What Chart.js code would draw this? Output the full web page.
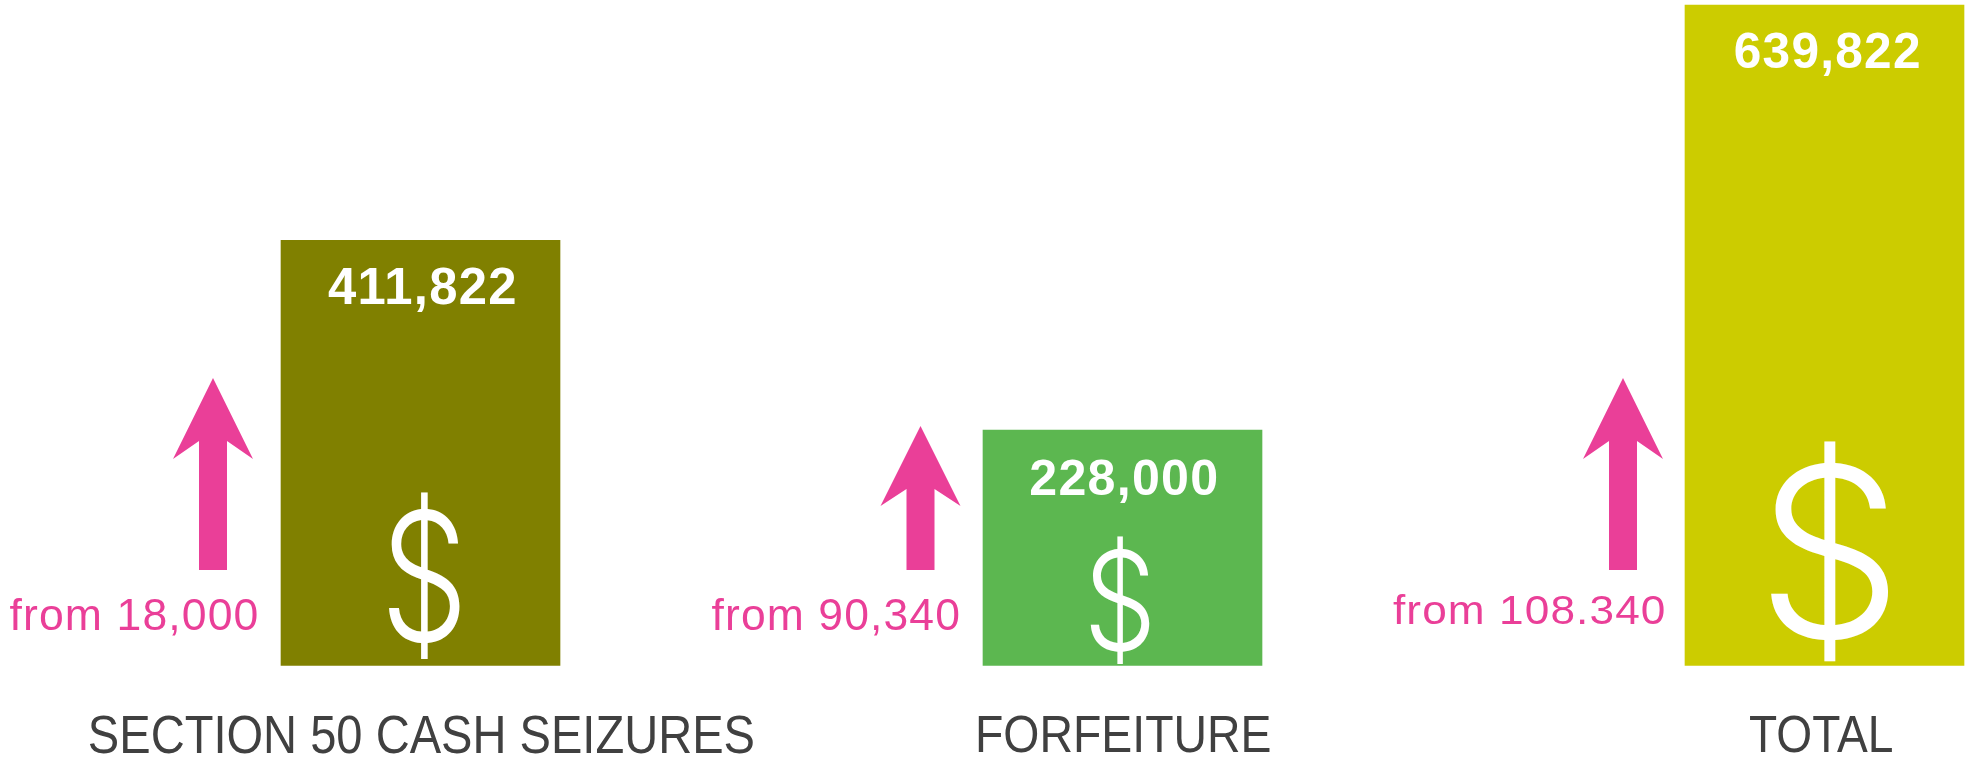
<!DOCTYPE html>
<html>
<head>
<meta charset="utf-8">
<style>html,body{margin:0;padding:0;background:#fff}canvas{display:block}</style>
<script src="https://cdn.jsdelivr.net/npm/chart.js@4"></script>
</head>
<body>
<canvas id="c" width="1965" height="760"></canvas>
<script>
const categories = ["SECTION 50 CASH SEIZURES", "FORFEITURE", "TOTAL"];
const values = [411822, 228000, 639822];
const fromLabels = ["from 18,000", "from 90,340", "from 108.340"];
const barColors = ["#808000", "#5cb750", "#cccc00"];

const PINK = "#ea3f98", DARK = "#404040", WHITE = "#ffffff";

// ink boxes relative to each bar's centre: [left, right, top, bottom]
const valueBoxes  = [[-92.5, 94.5, 268, 313], [-92, 94, 460, 504], [-89.5, 94.5, 33, 77]];
const dollarBoxes = [[-32, 39, 492, 660], [-32, 27, 536, 664], [-54, 64, 441, 662]];
const fromBoxes   = [[-411, -163.5, 597, 635], [-411, -164, 597, 635], [-431.5, -160.5, 594, 624]];
const labelBoxes  = [[-331.5, 332.5, 716, 753], [-144, 147, 716, 752], [-75.5, 67.5, 716, 752]];
// arrows: centre offset, half head, half shaft, tip, notch, wing, foot
const arrows = [
  [-207.5, 40, 14, 378, 441, 459, 570],
  [-202,   40, 14, 426, 489, 506, 570],
  [-201.5, 40, 14, 378, 441, 459, 570]
];

function fitText(ctx, text, font, color, x0, x1, y0, y1, spacing) {
  ctx.save();
  ctx.font = font;
  ctx.fillStyle = color;
  ctx.textAlign = "left";
  ctx.textBaseline = "alphabetic";
  if (spacing) ctx.letterSpacing = spacing;
  const m = ctx.measureText(text);
  const w = m.actualBoundingBoxLeft + m.actualBoundingBoxRight;
  const h = m.actualBoundingBoxAscent + m.actualBoundingBoxDescent;
  const sx = (x1 - x0) / w, sy = (y1 - y0) / h;
  ctx.translate(x0 + m.actualBoundingBoxLeft * sx, y0 + m.actualBoundingBoxAscent * sy);
  ctx.scale(sx, sy);
  ctx.fillText(text, 0, 0);
  ctx.restore();
}

const decorations = {
  id: "decorations",
  afterDatasetsDraw(chart) {
    const ctx = chart.ctx, xs = chart.scales.x;
    categories.forEach((cat, i) => {
      const cx = xs.getPixelForValue(i);
      let b = valueBoxes[i];
      fitText(ctx, values[i].toLocaleString("en-US"), "700 40px 'Liberation Sans'", WHITE, cx + b[0], cx + b[1], b[2], b[3], "1px");
      b = dollarBoxes[i];
      fitText(ctx, "$", "350 200px Inter", WHITE, cx + b[0], cx + b[1], b[2], b[3]);
      b = fromBoxes[i];
      fitText(ctx, fromLabels[i], "400 40px 'Liberation Sans'", PINK, cx + b[0], cx + b[1], b[2], b[3], "1px");
      b = labelBoxes[i];
      fitText(ctx, cat, "400 40px 'Liberation Sans'", DARK, cx + b[0], cx + b[1], b[2], b[3]);
      const [dx, hh, hs, tip, notch, wing, foot] = arrows[i];
      const ax = cx + dx;
      ctx.save();
      ctx.fillStyle = PINK;
      ctx.beginPath();
      ctx.moveTo(ax, tip);
      ctx.lineTo(ax + hh, wing);
      ctx.lineTo(ax + hs, notch);
      ctx.lineTo(ax + hs, foot);
      ctx.lineTo(ax - hs, foot);
      ctx.lineTo(ax - hs, notch);
      ctx.lineTo(ax - hh, wing);
      ctx.closePath();
      ctx.fill();
      ctx.restore();
    });
  }
};

new Chart(document.getElementById("c"), {
  type: "bar",
  data: {
    labels: categories,
    datasets: [{
      data: values,
      backgroundColor: barColors,
      borderWidth: 0,
      barThickness: 279,
      clip: false
    }]
  },
  options: {
    responsive: false,
    animation: false,
    layout: { padding: { left: 420.5, right: 140.5, top: 5, bottom: 94.5 } },
    plugins: { legend: { display: false }, tooltip: { enabled: false }, title: { display: false } },
    scales: {
      x: { display: false, offset: false },
      y: { display: false, min: 0, max: 639822 }
    }
  },
  plugins: [decorations]
});
</script>
</body>
</html>
